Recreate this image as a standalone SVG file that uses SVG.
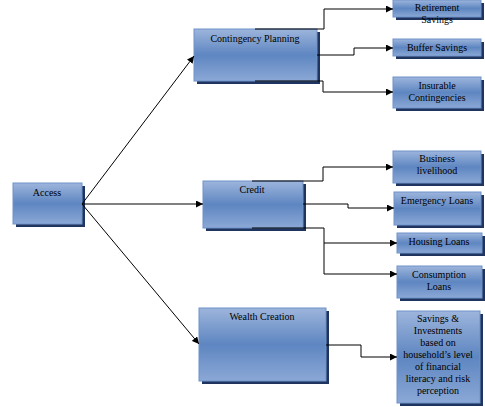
<svg xmlns="http://www.w3.org/2000/svg" width="485" height="407" viewBox="0 0 485 407">
<defs>
<linearGradient id="g" x1="0" y1="0" x2="0" y2="1">
<stop offset="0" stop-color="#9db5dc"/>
<stop offset="0.5" stop-color="#5e86c1"/>
<stop offset="1" stop-color="#8ba8d6"/>
</linearGradient>
<marker id="ah" viewBox="0 0 10 10" refX="10" refY="5" markerWidth="7" markerHeight="7" markerUnits="userSpaceOnUse" orient="auto">
<path d="M0,0 L10,5 L0,10 z" fill="#000"/>
</marker>
</defs>
<style>
.sh{fill:#1f3560}
.bx{fill:url(#g);stroke:#6f92c8;stroke-width:1}
text{font-family:"Liberation Serif","Times New Roman",serif;font-size:10px;fill:#000;text-anchor:middle}
.c{fill:none;stroke:#000;stroke-width:1}
</style>
<rect width="485" height="407" fill="#fff"/>
<g id="access"><rect class="sh" x="16" y="186" width="69" height="41"/><rect class="bx" x="13" y="183" width="69" height="41"/><text x="47" y="196">Access</text></g>
<g id="contingency"><rect class="sh" x="197" y="32" width="123" height="52"/><rect class="bx" x="194" y="29" width="123" height="52"/><text x="255" y="42">Contingency Planning</text></g>
<g id="retirement"><rect class="sh" x="396" y="3" width="88" height="17"/><rect class="bx" x="393" y="0" width="88" height="17"/><text x="437" y="11">Retirement</text><text x="437" y="23">Savings</text></g>
<g id="buffer"><rect class="sh" x="396" y="42" width="88" height="17"/><rect class="bx" x="393" y="39" width="88" height="17"/><text x="437" y="51">Buffer Savings</text></g>
<g id="insurable"><rect class="sh" x="396" y="80" width="88" height="31"/><rect class="bx" x="393" y="77" width="88" height="31"/><text x="437" y="89">Insurable</text><text x="437" y="101">Contingencies</text></g>
<g id="credit"><rect class="sh" x="206" y="184" width="100" height="47"/><rect class="bx" x="203" y="181" width="100" height="47"/><text x="252" y="193">Credit</text></g>
<g id="business"><rect class="sh" x="396" y="154" width="88" height="32"/><rect class="bx" x="393" y="151" width="88" height="32"/><text x="437" y="162">Business</text><text x="437" y="174">livelihood</text></g>
<g id="emergency"><rect class="sh" x="397" y="195" width="87" height="33"/><rect class="bx" x="394" y="192" width="87" height="33"/><text x="437" y="204">Emergency Loans</text></g>
<g id="housing"><rect class="sh" x="400" y="236" width="85" height="20"/><rect class="bx" x="397" y="233" width="85" height="20"/><text x="439" y="245">Housing Loans</text></g>
<g id="consumption"><rect class="sh" x="400" y="269" width="85" height="32"/><rect class="bx" x="397" y="266" width="85" height="32"/><text x="439" y="278">Consumption</text><text x="439" y="290">Loans</text></g>
<g id="wealth"><rect class="sh" x="202" y="311" width="127" height="73"/><rect class="bx" x="199" y="308" width="127" height="73"/><text x="262" y="320">Wealth Creation</text></g>
<g id="savings"><rect class="sh" x="400" y="314" width="83" height="92"/><rect class="bx" x="397" y="311" width="83" height="92"/><text x="438" y="322">Savings &amp;</text><text x="438" y="334">Investments</text><text x="438" y="346">based on</text><text x="438" y="358">household’s level</text><text x="438" y="370">of financial</text><text x="438" y="382">literacy and risk</text><text x="438" y="394">perception</text></g>
<g id="connectors">
<path class="c" d="M82,204 L194,56" marker-end="url(#ah)"/>
<path class="c" d="M82,204 L203,204" marker-end="url(#ah)"/>
<path class="c" d="M82,204 L199,344" marker-end="url(#ah)"/>
<path class="c" d="M255,29 H324 V9 H393" marker-end="url(#ah)"/>
<path class="c" d="M317,55 H354 V48 H393" marker-end="url(#ah)"/>
<path class="c" d="M255,81 H323 V92 H393" marker-end="url(#ah)"/>
<path class="c" d="M252,181 H323 V167 H393" marker-end="url(#ah)"/>
<path class="c" d="M303,204 H348 V208 H394" marker-end="url(#ah)"/>
<path class="c" d="M252,228 H324 V274 H397" marker-end="url(#ah)"/>
<path class="c" d="M324,243 H397" marker-end="url(#ah)"/>
<path class="c" d="M326,345 H361 V357 H397" marker-end="url(#ah)"/>
</g>
</svg>
